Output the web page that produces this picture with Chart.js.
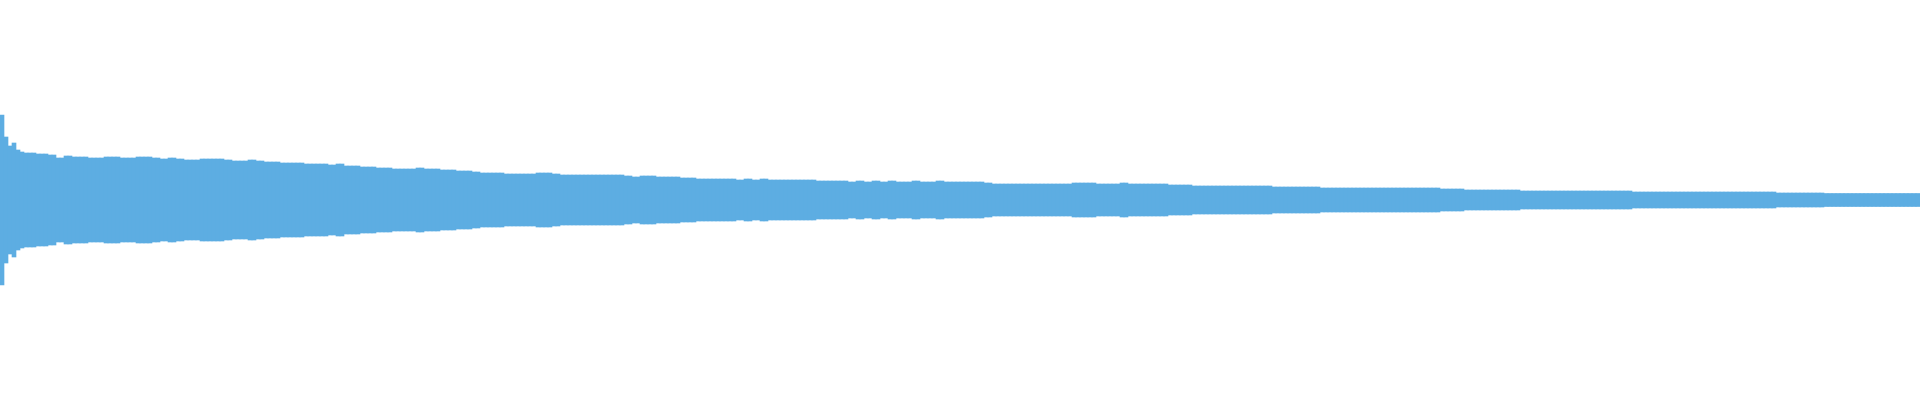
<!DOCTYPE html>
<html lang="en-US">
<head>
  <meta charset="utf-8">
  <title>waveform</title>
  <script src="https://cdn.jsdelivr.net/npm/chart.js@4/dist/chart.umd.min.js"></script>
  <style>
    html, body { margin: 0; padding: 0; background: #fff; }
    canvas { display: block; }
  </style>
</head>
<body>
  <canvas id="wave" width="1920" height="400"></canvas>

  <script>
    // onset: peak amplitude every 4 px for the first 40 px (the attack spike)
    let onsetPeaks = [85, 63, 54, 57, 50, 48, 47, 47, 47, 46];

    // body: peak amplitude every 8 px from x = 40 to the end
    let bodyPeaks = [
                          46, 45, 42, 44, 43, 43, 42, 42, 43, 43, 42, 42, 43, 43, 42,
      41, 42, 41, 40, 40, 41, 41, 41, 40, 39, 39, 40, 39, 38, 38, 37, 37, 37, 36, 36,
      36, 35, 36, 34, 34, 33, 33, 32, 32, 31, 31, 31, 32, 31, 31, 30, 30, 29, 29, 28,
      27, 27, 27, 26, 26, 26, 26, 27, 27, 26, 25, 25, 25, 25, 25, 25, 25, 25, 24, 23,
      24, 24, 23, 23, 23, 22, 22, 21, 21, 21, 21, 21, 20, 21, 20, 21, 20, 20, 20, 20,
      20, 20, 19, 19, 19, 19, 18, 19, 18, 19, 18, 19, 18, 18, 19, 18, 18, 19, 18, 18,
      18, 18, 18, 17, 16, 16, 16, 16, 16, 16, 16, 16, 16, 16, 17, 17, 17, 16, 16, 16,
      17, 16, 16, 16, 16, 16, 15, 15, 15, 14, 14, 14, 14, 14, 14, 14, 14, 14, 14, 13,
      13, 13, 13, 13, 13, 12, 12, 12, 12, 12, 12, 12, 12, 12, 12, 12, 12, 12, 12, 12,
      11, 11, 11, 10, 10, 10, 10, 10, 10, 10, 9, 9, 9, 9, 9, 9, 9, 9, 9, 9,
      9, 9, 9, 9, 8, 8, 8, 8, 8, 8, 8, 8, 8, 8, 8, 8, 8, 8, 8, 8,
      8, 8, 7, 7, 7, 7, 7, 7, 6.5, 6.5, 6.5, 6.5, 6.5, 6.5, 6.5, 6.5, 6.5, 6.5, 6.5, 6.5
    ];

    let waveColor = '#5dade2';

    // one 4 px column per entry; each body reading spans two columns
    let columnPeaks = onsetPeaks.concat(bodyPeaks.flatMap(p => [p, p]));
    let columns = columnPeaks.map((p, i) => i);

    new Chart('wave', {
      type: 'bar',
      data: {
        labels: columns,
        datasets: [{
          data: columnPeaks.map(p => [-p, p]),
          backgroundColor: waveColor,
          borderWidth: 0,
          barPercentage: 1,
          categoryPercentage: 1
        }]
      },
      options: {
        responsive: false,
        animation: false,
        layout: { padding: 0 },
        plugins: {
          legend: { display: false },
          tooltip: { enabled: false }
        },
        scales: {
          x: { display: false },
          y: { display: false, min: -200, max: 200 }
        }
      }
    });
  </script>
</body>
</html>
